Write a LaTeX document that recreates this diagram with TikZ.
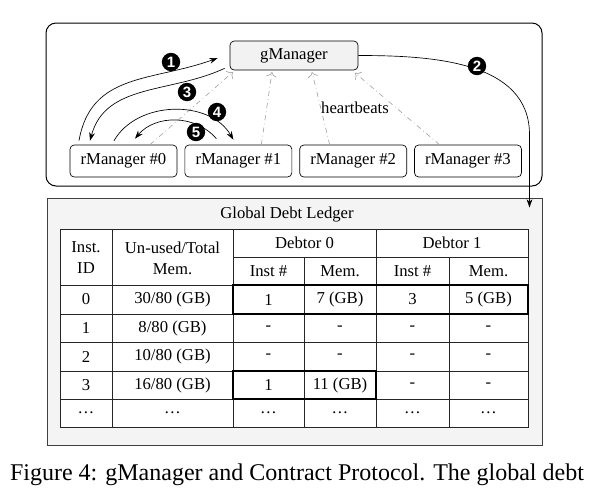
\documentclass[tikz,border=0pt]{standalone}
\usepackage{fontspec}
\setmainfont{Liberation Serif}
\setsansfont{Liberation Sans}
\usetikzlibrary{positioning,arrows.meta}
\tikzset{
  mgr/.style={draw,rounded corners=2.5pt,minimum width=64.2pt,minimum height=19.2pt,inner sep=1pt},
  num/.style={circle,fill=black,text=white,inner sep=0pt,minimum size=11pt,font=\sffamily\bfseries\fontsize{9}{9}\selectfont},
  hb/.style={gray!70,dash dot,-{To[length=3pt]}},
  msg/.style={-{Stealth[length=5pt,width=3.5pt]}},
  cell/.style={inner sep=0pt,align=center,font=\fontsize{10}{12.6}\selectfont},
}
\newcommand\ledgerrow[8]{%
  \node[cell](#1-0) at (86,#2){#3};
  \node[cell](#1-1) at (172.5,#2){#4};
  \node[cell](#1-2) at (268.5,#2){#5};
  \node[cell](#1-3) at (340,#2){#6};
  \node[cell](#1-4) at (412.5,#2){#7};
  \node[cell](#1-5) at (488.5,#2){#8};}
\begin{document}
\begin{tikzpicture}[x=0.6pt,y=-0.6pt]
\useasboundingbox (0,0) rectangle (609,494);
\draw[line width=0.6pt,rounded corners=6pt] (46,23) rectangle (542,186);
\node[mgr,fill=gray!10,minimum width=76.8pt,minimum height=17.4pt](GM) at (294,55.5){gManager};
\node[mgr](RM0) at (123.5,161){rManager \#0};
\node[mgr,right=4.3pt of RM0](RM1){rManager \#1};
\node[mgr,right=4.3pt of RM1](RM2){rManager \#2};
\node[mgr,right=4.3pt of RM2](RM3){rManager \#3};
\node(HB) at (355,108){heartbeats};
\draw[hb] ([xshift=15.9pt]RM0.north) -- ([xshift=-36.6pt,yshift=-1pt]GM.south);
\draw[hb] ([xshift=13.8pt]RM1.north) -- ([xshift=-13.2pt,yshift=-1pt]GM.south);
\draw[hb] ([xshift=-14.1pt]RM2.north) -- ([xshift=10.8pt,yshift=-1pt]GM.south);
\draw[hb] ([xshift=-17.1pt]RM3.north) -- ([xshift=36.6pt,yshift=-1.5pt]GM.south);
\node[draw=black!75,fill=gray!9,line width=0.6pt,minimum width=297pt,minimum height=148.2pt,inner sep=0pt](LDG) at (294.5,321.5){};
\node(TTL) at (287,215){Global Debt Ledger};
\coordinate(TIP) at ([xshift=-7.8pt,yshift=-6pt]LDG.north east);
\draw[msg] ([xshift=-26.7pt,yshift=2.4pt]RM0.north) to[out=80,in=200,looseness=1.1] ([xshift=-7.2pt,yshift=-1.5pt]GM.west);
\draw[msg] ([xshift=-3pt,yshift=1.2pt]GM.south west) to[out=205,in=75] ([xshift=-20.1pt,yshift=2.4pt]RM0.north);
\draw[msg] ([xshift=-5.7pt,yshift=2.4pt]RM0.north) to[out=60,in=120] ([xshift=-3pt,yshift=3pt]RM1.north);
\draw[msg] ([xshift=-13.2pt,yshift=3.6pt]RM1.north) to[out=130,in=50] ([xshift=6.9pt,yshift=3.6pt]RM0.north);
\draw[msg] (GM.east) to[out=0,in=90] ([yshift=6pt]TIP |- RM3.north) -- (TIP);
\node[num](N1) at (171,62){1};
\node[num](N2) at (477,66){2};
\node[num](N3) at (187,92){3};
\node[num](N4) at (217,112){4};
\node[num](N5) at (196,132){5};
\begin{scope}[black!85]
\fill[white] (60,229) rectangle (528,427);
\draw (60,229) rectangle (528,427);
\draw (112,229) -- (112,427) (233,229) -- (233,427) (376,229) -- (376,427);
\draw (304,257) -- (304,427) (449,257) -- (449,427) (233,257) -- (528,257);
\foreach \y in {285,314,342,371,399}
  \draw (60,\y) -- (528,\y);
\draw[black,line width=0.8pt] (233,285) rectangle (528,314) (233,371) rectangle (376,399);
\end{scope}
\node[cell](H0) at (86,258){Inst.\\ID};
\node[cell](H1) at (172.5,258){Un-used/Total\\Mem.};
\node[cell](D0) at (304.5,243){Debtor 0};
\node[cell](D1) at (452,243){Debtor 1};
\node[cell](S0) at (268.5,271){Inst \#};
\node[cell](S1) at (340,271){Mem.};
\node[cell](S2) at (412.5,271){Inst \#};
\node[cell](S3) at (488.5,271){Mem.};
\ledgerrow{R0}{299.5}{0}{30/80 (GB)}{1}{7 (GB)}{3}{5 (GB)}
\ledgerrow{R1}{328}{1}{8/80 (GB)}{-}{-}{-}{-}
\ledgerrow{R2}{356.5}{2}{10/80 (GB)}{-}{-}{-}{-}
\ledgerrow{R3}{385}{3}{16/80 (GB)}{1}{11 (GB)}{-}{-}
\ledgerrow{R4}{413}{…}{…}{…}{…}{…}{…}
\node[font=\fontsize{14.4}{17}\selectfont](CAP) at (297,475){Figure 4: gManager and Contract Protocol. The global debt};
\end{tikzpicture}
\end{document}
